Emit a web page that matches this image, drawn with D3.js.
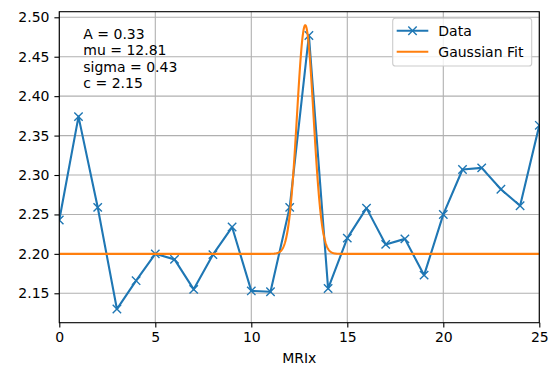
<!DOCTYPE html>
<html>
<head>
<meta charset="utf-8">
<script src="https://cdn.jsdelivr.net/npm/d3@7"></script>
<style>
  body { margin: 0; background: #fff; }
  text { font-family: "DejaVu Sans", sans-serif; }
</style>
</head>
<body>
<div id="chart"></div>
<script>
// data
var mrix = d3.range(0, 26)
var values = [2.243, 2.374, 2.259, 2.130, 2.166, 2.200, 2.193, 2.155, 2.199, 2.234,
  2.153, 2.152, 2.259, 2.477, 2.156, 2.220, 2.258, 2.212, 2.219, 2.173,
  2.250, 2.307, 2.309, 2.282, 2.261, 2.363]
var xTicks = [0, 5, 10, 15, 20, 25]
var yTicks = [2.15, 2.20, 2.25, 2.30, 2.35, 2.40, 2.45, 2.50]
var paramLines = ["A = 0.33", "mu = 12.81", "sigma = 0.43", "c = 2.15"]
// parameters of the drawn fit curve
var fitA = 0.29, fitMu = 12.81, fitSigma = 0.43, fitC = 2.20
var legendItems = ["Data", "Gaussian Fit"]

function drawChart() {
  var W = 551, H = 366
  var pl = 59.3, pr = 539.3, pt = 11.7, pb = 322.7

  var svg = d3.select('#chart').append('svg')
    .attr('width', W).attr('height', H)

  var x = d3.scaleLinear().domain([0, 25]).range([pl, pr])
  var y = d3.scaleLinear().domain([2.1127, 2.5071]).range([pb, pt])

  svg.append('defs').append('clipPath').attr('id', 'clip')
    .append('rect').attr('x', pl).attr('y', pt)
    .attr('width', pr - pl).attr('height', pb - pt)

  // grid
  var grid = svg.append('g')
  grid.selectAll('.gx').data(xTicks).enter().append('line')
    .attr('x1', d => x(d)).attr('x2', d => x(d))
    .attr('y1', pt).attr('y2', pb)
    .attr('stroke', '#b0b0b0').attr('stroke-width', 1.1)
  grid.selectAll('.gy').data(yTicks).enter().append('line')
    .attr('x1', pl).attr('x2', pr)
    .attr('y1', d => y(d)).attr('y2', d => y(d))
    .attr('stroke', '#b0b0b0').attr('stroke-width', 1.1)

  var plot = svg.append('g').attr('clip-path', 'url(#clip)')

  // data line + x markers
  plot.append('path')
    .datum(values)
    .attr('fill', 'none').attr('stroke', '#1f77b4').attr('stroke-width', 2.1)
    .attr('stroke-linejoin', 'round')
    .attr('d', d3.line().x((d, i) => x(mrix[i])).y(d => y(d)))

  var m = 4.2
  plot.selectAll('.mk').data(values).enter().append('path')
    .attr('d', (d, i) => {
      var cx = x(mrix[i]), cy = y(d)
      return 'M' + (cx - m) + ',' + (cy - m) + 'L' + (cx + m) + ',' + (cy + m) +
        'M' + (cx - m) + ',' + (cy + m) + 'L' + (cx + m) + ',' + (cy - m)
    })
    .attr('stroke', '#1f77b4').attr('stroke-width', 1.4).attr('fill', 'none')

  // gaussian fit curve
  var fitX = d3.range(0, 25.0001, 0.02)
  plot.append('path')
    .datum(fitX)
    .attr('fill', 'none').attr('stroke', '#ff7f0e').attr('stroke-width', 2.1)
    .attr('d', d3.line()
      .x(d => x(d))
      .y(d => y(fitA * Math.exp(-(d - fitMu) * (d - fitMu) / (2 * fitSigma * fitSigma)) + fitC)))

  // axes
  var xAxis = svg.append('g')
    .attr('transform', 'translate(0,' + pb + ')')
    .call(d3.axisBottom(x).tickValues(xTicks).tickSize(4.9).tickPadding(4.9).tickFormat(d3.format('d')))
  var yAxis = svg.append('g')
    .attr('transform', 'translate(' + pl + ',0)')
    .call(d3.axisLeft(y).tickValues(yTicks).tickSize(4.9).tickPadding(4.9).tickFormat(d3.format('.2f')))
  ;[xAxis, yAxis].forEach(a => {
    a.select('.domain').remove()
    a.selectAll('line').attr('stroke', '#000').attr('stroke-width', 1.1)
    a.selectAll('text').attr('font-size', 14).attr('fill', '#000')
      .attr('font-family', '"DejaVu Sans", sans-serif')
  })

  // frame
  svg.append('rect')
    .attr('x', pl).attr('y', pt)
    .attr('width', pr - pl).attr('height', pb - pt)
    .attr('fill', 'none').attr('stroke', '#000').attr('stroke-width', 1.1)

  svg.append('text')
    .attr('x', (pl + pr) / 2).attr('y', 362.5)
    .attr('text-anchor', 'middle').attr('font-size', 14)
    .text('MRIx')

  // parameter text
  svg.append('g').selectAll('text').data(paramLines).enter().append('text')
    .attr('x', 83.3).attr('y', (d, i) => 38.5 + i * 16.6)
    .attr('font-size', 14)
    .text(d => d)

  // legend
  var lg = svg.append('g')
  lg.append('rect')
    .attr('x', 392.7).attr('y', 18.3).attr('width', 139).attr('height', 47.7)
    .attr('rx', 2.8).attr('fill', '#fff').attr('fill-opacity', 0.8)
    .attr('stroke', '#cccccc').attr('stroke-width', 1.1)
  var legColors = ['#1f77b4', '#ff7f0e']
  legendItems.forEach((name, i) => {
    var ly = 30.7 + i * 21
    lg.append('line').attr('x1', 396.7).attr('x2', 428.3)
      .attr('y1', ly).attr('y2', ly)
      .attr('stroke', legColors[i]).attr('stroke-width', 2.1)
    if (i == 0) {
      var cx = 412.5
      lg.append('path')
        .attr('d', 'M' + (cx - m) + ',' + (ly - m) + 'L' + (cx + m) + ',' + (ly + m) +
          'M' + (cx - m) + ',' + (ly + m) + 'L' + (cx + m) + ',' + (ly - m))
        .attr('stroke', legColors[i]).attr('stroke-width', 1.4)
    }
    lg.append('text').attr('x', 438.3).attr('y', ly + 5)
      .attr('font-size', 14).text(name)
  })
}

drawChart()
</script>
</body>
</html>
